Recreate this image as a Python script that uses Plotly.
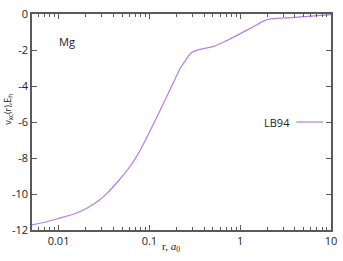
import plotly.graph_objects as go
import numpy as np

# data
r_vals = [0.0051, 0.007, 0.01, 0.015, 0.02, 0.028, 0.035, 0.046, 0.06, 0.076, 0.1, 0.13,
          0.146, 0.2, 0.22, 0.25, 0.283, 0.35, 0.51, 0.71, 0.91, 1.44, 1.85, 2.1, 4.0, 10.0]
v_vals = [-11.72, -11.57, -11.36, -11.1, -10.82, -10.35, -9.91, -9.25, -8.54, -7.73, -6.57, -5.40,
          -4.87, -3.42, -2.99, -2.58, -2.19, -1.98, -1.80, -1.48, -1.2, -0.67, -0.37, -0.29, -0.19, -0.04]

x_ticks = [0.01, 0.1, 1, 10]
x_tick_text = ["0.01", "0.1", "1", "10"]
y_ticks = [0, -2, -4, -6, -8, -10, -12]
y_tick_text = ["0", "-2", "-4", "-6", "-8", "-10", "-12"]
minor_x = [m * 10.0 ** e for e in range(-3, 2) for m in range(2, 10)]
minor_x = [v for v in minor_x if 0.005 < v < 10]

curve_color = "#b57ee0"
axis_color = "#5a5a5a"
font_fam = "Open Sans, Liberation Sans, sans-serif"

fig = go.Figure()
fig.add_trace(go.Scatter(x=r_vals, y=v_vals, mode="lines",
                         line=dict(color=curve_color, width=1.2, shape="spline", smoothing=0.8),
                         showlegend=False, cliponaxis=False))

fig.update_layout(
    width=343, height=261,
    margin=dict(l=32, r=9, t=6, b=31),
    paper_bgcolor="white", plot_bgcolor="white",
    font=dict(family=font_fam, size=11, color="#222"),
)
fig.update_xaxes(type="log", range=[np.log10(0.0051), 1.0],
                 tickvals=x_ticks, ticktext=x_tick_text,
                 ticks="inside", ticklen=5, tickcolor=axis_color, tickwidth=1,
                 minor=dict(tickvals=minor_x, ticks="inside", ticklen=3,
                            tickcolor=axis_color, showgrid=False),
                 showline=True, linecolor=axis_color, linewidth=1.5, mirror="ticks",
                 showgrid=False, zeroline=False, tickfont=dict(size=11))
fig.update_yaxes(range=[-12, 0.0001], tickvals=y_ticks, ticktext=y_tick_text,
                 ticks="inside", ticklen=5, tickcolor=axis_color, tickwidth=1,
                 showline=True, linecolor=axis_color, linewidth=1.5, mirror="ticks",
                 showgrid=False, zeroline=False, tickfont=dict(size=11),
                 ticklabeloverflow="allow")

# label and legend (gnuplot style: text then line)
fig.add_annotation(text="Mg", xref="paper", yref="paper", x=0.083, y=0.871,
                   xanchor="left", yanchor="middle", showarrow=False,
                   font=dict(size=11, color="#222"))
fig.add_annotation(text="LB94", xref="paper", yref="paper", x=0.868, y=0.5,
                   xanchor="right", yanchor="middle", showarrow=False,
                   font=dict(size=11, color="#222"))
fig.add_shape(type="line", xref="paper", yref="paper", x0=0.884, x1=0.974, y0=0.5, y1=0.5,
              line=dict(color=curve_color, width=1.2))

# axis titles
fig.add_annotation(text="v<sub>xc</sub>(r),E<sub>h</sub>", xref="paper", yref="paper",
                   x=-0.079, y=0.558, textangle=-90, showarrow=False,
                   xanchor="center", yanchor="middle",
                   font=dict(size=9, color="#222"))
fig.add_annotation(text="r, <i>a</i><sub>0</sub>", xref="paper", yref="paper",
                   x=0.464, y=-0.08, showarrow=False, xanchor="center", yanchor="middle",
                   font=dict(size=11, family="Liberation Serif, DejaVu Serif, serif", color="#222"))

fig.write_html("out.html")
